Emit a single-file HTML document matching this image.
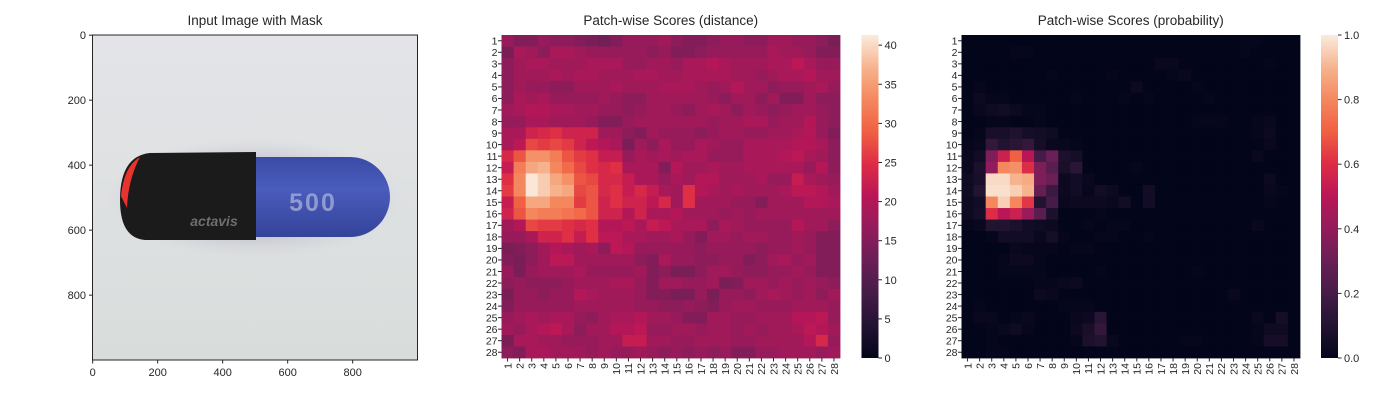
<!DOCTYPE html>
<html><head><meta charset="utf-8"><style>
body{margin:0;background:#fff;width:1400px;height:400px;overflow:hidden}
svg text{font-family:"Liberation Sans",Arial,sans-serif;fill:#262626}
</style></head><body>
<svg id="s" width="1400" height="400" xmlns="http://www.w3.org/2000/svg">
<defs>
<linearGradient id="bg" x1="0" y1="0" x2="0" y2="1"><stop offset="0" stop-color="#e4e4e8"/><stop offset="1" stop-color="#d8dddb"/></linearGradient>
<radialGradient id="sh" cx="0.5" cy="0.5" r="0.5"><stop offset="0.6" stop-color="#aab" stop-opacity="0.5"/><stop offset="1" stop-color="#ccd" stop-opacity="0"/></radialGradient>
<linearGradient id="blue" x1="0" y1="0" x2="0" y2="1"><stop offset="0" stop-color="#3a4aa6"/><stop offset="0.4" stop-color="#4a5cbc"/><stop offset="1" stop-color="#34449a"/></linearGradient>
<linearGradient id="rk" x1="0" y1="0" x2="0" y2="1"><stop offset="0" stop-color="#faebdd"/><stop offset="0.1" stop-color="#f6b48e"/><stop offset="0.2" stop-color="#f4875e"/><stop offset="0.3" stop-color="#f06043"/><stop offset="0.4" stop-color="#dd2c45"/><stop offset="0.5" stop-color="#b91657"/><stop offset="0.6" stop-color="#921c5b"/><stop offset="0.7" stop-color="#6a1f56"/><stop offset="0.8" stop-color="#451c47"/><stop offset="0.9" stop-color="#221331"/><stop offset="1" stop-color="#03051a"/></linearGradient>
</defs>
<g>
<text x="255" y="25" font-size="13.5" text-anchor="middle">Input Image with Mask</text>
<rect x="92.5" y="35" width="325" height="325" fill="url(#bg)"/>
<ellipse cx="255" cy="198" rx="150" ry="60" fill="url(#sh)"/>
<path d="M256,157 L350,157 A40,40 0 0 1 350,237 L256,237 Z" fill="url(#blue)"/>
<path d="M256,152 L256,240 L145,240 Q120,238 120,200 Q120,156 150,153 Z" fill="#1c1b1b"/>
<path d="M140,157 Q124,166 121,196 L127,208 Q128,180 140,157 Z" fill="#e8332e"/>
<text x="313" y="211" font-size="25" font-weight="bold" text-anchor="middle" letter-spacing="2" style="fill:#8f9bd0">500</text>
<text x="214" y="226" font-size="14" font-style="italic" font-weight="bold" text-anchor="middle" style="fill:#6e6e6e">actavis</text>
<rect x="92.5" y="35" width="325" height="325" fill="none" stroke="#262626" stroke-width="1"/>
<g id="leftTicks"></g>
</g>
<g id="mid"></g>
<g id="right"></g>
<rect x="861.5" y="35" width="17" height="323" fill="url(#rk)"/>
<rect x="1321" y="35" width="17" height="323" fill="url(#rk)"/>
</svg>
<script>
const distance=[
[17,15,15,17,16,16,15,14,13,15,17,17,17,18,16,15,15,16,17,17,16,16,18,18,17,17,16,14],
[14,19,18,16,19,19,18,17,17,17,17,17,16,17,15,15,16,17,17,17,17,17,19,18,18,17,15,15],
[16,18,19,19,18,18,18,19,19,19,17,17,18,18,17,19,19,20,19,18,18,18,19,19,21,19,17,17],
[16,18,18,18,19,18,19,19,18,18,18,19,19,18,18,19,19,19,19,18,18,17,18,19,19,20,18,18],
[16,18,17,17,16,16,18,18,18,19,18,18,18,19,19,19,18,17,18,20,18,18,16,17,17,18,19,17],
[16,19,18,19,17,17,17,17,18,17,16,16,18,18,18,18,18,17,16,18,18,16,18,15,15,18,16,16],
[18,19,20,20,19,19,18,18,17,17,16,17,18,18,17,16,18,19,18,16,18,17,16,17,18,18,17,16],
[17,17,19,19,18,18,18,17,15,15,17,18,18,18,18,18,18,17,18,18,19,19,17,18,18,20,17,16],
[19,19,23,24,25,23,23,23,18,18,16,15,18,17,17,17,16,17,18,18,17,17,18,18,19,20,17,15],
[19,21,27,26,27,26,23,21,20,19,14,18,16,19,17,17,19,18,17,17,19,19,19,19,20,20,19,16],
[24,28,34,34,32,28,26,25,22,22,17,19,18,19,18,19,19,17,17,17,19,19,19,20,21,19,18,16],
[22,32,36,37,33,30,27,25,24,25,19,19,19,15,20,18,18,19,18,18,19,19,19,19,19,17,20,16],
[25,33,41,39,36,34,28,27,24,24,22,19,19,17,19,18,20,20,18,18,18,19,17,17,22,19,18,17],
[26,33,41,39,37,36,27,28,24,25,22,24,22,19,18,25,20,19,18,19,18,18,18,19,21,21,20,18],
[22,29,36,36,33,33,26,28,23,25,23,23,21,24,18,25,18,18,18,17,17,15,18,18,18,20,20,19],
[23,28,33,32,32,31,30,28,23,23,20,23,19,19,20,18,18,18,17,18,17,18,18,18,18,18,18,18],
[18,20,27,26,26,25,24,25,20,20,21,19,22,21,19,19,19,16,19,18,17,17,17,17,20,18,18,16],
[17,17,19,23,23,25,22,25,21,21,19,19,18,18,19,17,15,18,18,17,18,18,17,17,18,17,15,15],
[14,15,16,18,20,19,18,19,16,21,20,17,17,17,17,17,16,17,17,17,17,16,17,17,18,17,15,15],
[15,14,16,18,21,21,18,18,18,18,18,16,15,19,17,17,16,16,17,17,15,16,18,19,17,18,15,15],
[17,14,17,18,18,18,19,17,17,17,17,18,15,16,14,14,16,18,18,17,16,16,17,17,18,17,15,15],
[16,17,16,16,16,17,18,18,18,19,19,17,15,18,18,17,17,18,14,15,18,18,17,18,17,18,17,16],
[14,17,17,16,17,17,20,19,18,18,18,17,15,15,14,14,17,14,17,17,16,18,19,18,17,18,16,18],
[15,17,17,17,17,17,18,18,18,18,18,17,17,16,16,17,16,15,17,18,18,17,17,17,18,18,18,17],
[17,18,19,18,19,19,17,16,18,19,19,20,18,18,17,15,15,18,18,17,17,18,18,18,20,20,21,17],
[18,17,19,20,21,19,16,18,18,20,20,21,17,17,18,18,17,18,18,17,18,17,18,18,19,21,20,18],
[14,19,19,18,18,17,17,17,18,18,22,22,18,18,17,17,18,18,18,17,17,18,18,18,18,20,24,17],
[16,15,19,19,18,18,18,17,18,17,17,18,17,16,17,16,17,16,17,15,15,17,17,18,18,18,17,18]];
const probability=[
[0,0,0,0,0,0,0,0,0,0,0,0,0,0,0,0,0,0,0,0,0,0,0,0.01,0.01,0,0,0],
[0,0,0,0,0.01,0.01,0,0,0,0,0,0,0,0,0,0,0,0,0,0,0,0,0,0.01,0,0,0,0],
[0,0,0,0,0,0,0,0,0,0,0,0,0,0,0,0,0.02,0.02,0,0,0,0,0,0,0,0.01,0,0],
[0,0,0,0,0,0,0,0.01,0,0,0,0,0.01,0,0,0,0,0.01,0.02,0,0,0,0,0,0,0,0,0],
[0,0.01,0,0,0,0,0,0,0,0,0,0,0,0,0.03,0,0,0,0,0.01,0,0,0,0,0,0,0,0],
[0,0.03,0.01,0.01,0,0,0,0,0,0.01,0,0,0,0.01,0,0.01,0,0,0,0,0.01,0,0,0,0,0,0,0],
[0,0.02,0.04,0.05,0.03,0.01,0.01,0,0,0,0,0,0,0,0,0,0,0,0,0,0,0,0,0,0,0,0,0],
[0,0,0.01,0.01,0,0,0.01,0,0,0,0,0,0,0,0,0,0,0,0,0.01,0.01,0.01,0,0,0.01,0.02,0,0],
[0,0.01,0.07,0.07,0.09,0.06,0.05,0.04,0,0,0,0,0,0,0,0,0,0,0,0,0,0,0,0,0.01,0.03,0,0],
[0.01,0.02,0.15,0.1,0.12,0.15,0.06,0.02,0.02,0.01,0,0,0,0,0,0,0,0,0,0,0,0,0,0,0,0.02,0,0],
[0.02,0.05,0.35,0.55,0.7,0.5,0.2,0.3,0.08,0.06,0,0,0,0,0,0,0,0,0,0,0,0,0,0,0.02,0,0,0],
[0.02,0.08,0.4,0.8,0.82,0.6,0.35,0.25,0.07,0.12,0,0,0,0,0.01,0,0,0,0,0,0,0,0,0,0,0,0,0],
[0.04,0.07,0.97,0.97,0.9,0.88,0.35,0.3,0.03,0.05,0.02,0,0,0,0,0,0,0,0,0,0,0,0,0,0,0.03,0,0],
[0.04,0.1,0.98,0.98,0.95,0.9,0.28,0.17,0.03,0.05,0.01,0.05,0.03,0,0,0.05,0,0,0,0,0,0,0,0,0,0.02,0.01,0],
[0.03,0.05,0.8,0.95,0.8,0.62,0.1,0.2,0.02,0.03,0.03,0.03,0.02,0.05,0,0.05,0,0,0,0,0,0,0,0,0,0.01,0,0],
[0.03,0.06,0.6,0.5,0.55,0.42,0.25,0.08,0,0,0,0.01,0,0,0,0,0,0,0,0,0,0,0,0,0,0,0,0],
[0.01,0.02,0.1,0.1,0.08,0.05,0.04,0.03,0,0,0.01,0,0.01,0.01,0,0,0,0,0,0,0,0,0,0,0.02,0,0,0],
[0,0,0.01,0.05,0.05,0.05,0.02,0.06,0.01,0,0,0.01,0.01,0,0,0.01,0,0,0,0,0,0,0,0,0,0,0,0],
[0,0,0,0,0.02,0.01,0.01,0.01,0,0.01,0.01,0,0,0,0,0,0,0,0,0,0,0,0,0,0,0,0,0],
[0,0,0,0.01,0.03,0.03,0.01,0,0,0,0,0,0,0,0,0,0,0,0,0,0,0,0,0,0,0,0,0],
[0,0,0,0.01,0.01,0.01,0.01,0,0,0,0,0.01,0,0,0,0,0,0,0,0.01,0,0,0,0,0,0,0,0],
[0,0,0,0,0,0,0.01,0.01,0.02,0.03,0,0,0,0,0,0,0,0,0,0,0,0,0,0,0,0,0,0],
[0,0,0,0,0,0,0.03,0.02,0,0,0,0,0,0,0,0,0,0,0,0,0,0,0.02,0,0,0,0,0],
[0,0.01,0,0,0,0,0,0,0.01,0.01,0.01,0,0,0,0,0,0,0,0,0,0,0,0,0,0,0,0,0],
[0,0.02,0.02,0,0.01,0.02,0,0,0,0.02,0.03,0.12,0,0,0,0,0,0,0,0,0,0,0,0,0.02,0,0.06,0],
[0,0,0.01,0.02,0.04,0.01,0,0,0,0.03,0.07,0.15,0,0,0,0,0,0,0,0,0,0,0,0,0.01,0.04,0.04,0],
[0,0,0.01,0,0,0,0,0,0,0.01,0.08,0.1,0.02,0,0,0,0,0,0.01,0.01,0,0,0,0,0.01,0.06,0.06,0],
[0,0,0.01,0.01,0,0,0,0,0,0,0,0,0,0,0,0,0,0,0,0,0,0,0,0,0,0,0,0]];
const rowLabels=Array.from({length:28},(_,i)=>String(i+1));
const colLabels=rowLabels;
const distTicks=[0,5,10,15,20,25,30,35,40];
const probTicks=[0,0.2,0.4,0.6,0.8,1.0];
const imgTicks=[0,200,400,600,800];

const stops=[[3,5,26],[34,19,49],[69,28,71],[106,31,86],[146,28,91],[185,22,87],[221,44,69],[240,96,67],[244,135,94],[246,180,142],[250,235,221]];
function rocket(t){t=Math.max(0,Math.min(1,t));const f=t*10,i=Math.min(9,Math.floor(f)),u=f-i;const a=stops[i],b=stops[i+1];return `rgb(${a.map((v,k)=>Math.round(v+(b[k]-v)*u)).join(',')})`;}
const NS='http://www.w3.org/2000/svg';
function mk(tag,attrs,parent,txt){const e=document.createElementNS(NS,tag);for(const k in attrs)e.setAttribute(k,attrs[k]);if(txt!==undefined)e.textContent=txt;parent.appendChild(e);return e;}

const lt=document.getElementById('leftTicks');
const ix=v=>92.5+(v+0.5)*0.325, iy=v=>35+(v+0.5)*0.325;
imgTicks.forEach(v=>{
 const l1=mk('line',{x1:ix(v),x2:ix(v),y1:360,y2:363.5,stroke:'#262626'},lt);
 
 
 const t1=mk('text',{x:ix(v),y:376,'font-size':11,'text-anchor':'middle'},lt,String(v));
 
 
 const l2=mk('line',{x1:89,x2:92.5,y1:iy(v),y2:iy(v),stroke:'#262626'},lt);
 
 
 const t2=mk('text',{x:86,y:iy(v)+4,'font-size':11,'text-anchor':'end'},lt,String(v));
 
 
});

function heat(g,data,x0,title,vmin,vmax,cbx,ticks,fmt,name){
 const y0=35,W=338.5,H=323,cw=W/28,ch=H/28;
 const tt=mk('text',{x:x0+W/2,y:25,'font-size':13.5,'text-anchor':'middle'},g,title);
 
 
 data.forEach((row,r)=>row.forEach((v,c)=>{
  const e=mk('rect',{x:x0+c*cw,y:y0+r*ch,width:cw+0.4,height:ch+0.4,fill:rocket((v-vmin)/(vmax-vmin))},g);
  
  
 }));
 rowLabels.forEach((lab,r)=>{
  const y=y0+(r+0.5)*ch;
  const l=mk('line',{x1:x0-3.5,x2:x0,y1:y,y2:y,stroke:'#262626'},g);
  
  
  const t=mk('text',{x:x0-4,y:y+3.8,'font-size':10.5,'text-anchor':'end'},g,lab);
  
  
 });
 colLabels.forEach((lab,c)=>{
  const x=x0+(c+0.5)*cw;
  const l=mk('line',{x1:x,x2:x,y1:y0+H,y2:y0+H+3.5,stroke:'#262626'},g);
  
  
  const t=mk('text',{x:x+3.8,y:y0+H+5,'font-size':10.5,'text-anchor':'end',transform:`rotate(-90 ${x+3.8} ${y0+H+5})`},g,lab);
  
  
 });
 ticks.forEach(v=>{
  const y=y0+H-(v-vmin)/(vmax-vmin)*H;
  const l=mk('line',{x1:cbx+17,x2:cbx+20.5,y1:y,y2:y,stroke:'#262626'},g);
  
  
  const t=mk('text',{x:cbx+23,y:y+4,'font-size':11},g,fmt(v));
  
  
 });
}
heat(document.getElementById('mid'),distance,501.5,'Patch-wise Scores (distance)',0,41.3,861.5,distTicks,v=>String(v),'distance-heatmap');
heat(document.getElementById('right'),probability,961.5,'Patch-wise Scores (probability)',0,1,1321,probTicks,v=>v.toFixed(1),'probability-heatmap');
</script>
</body></html>
